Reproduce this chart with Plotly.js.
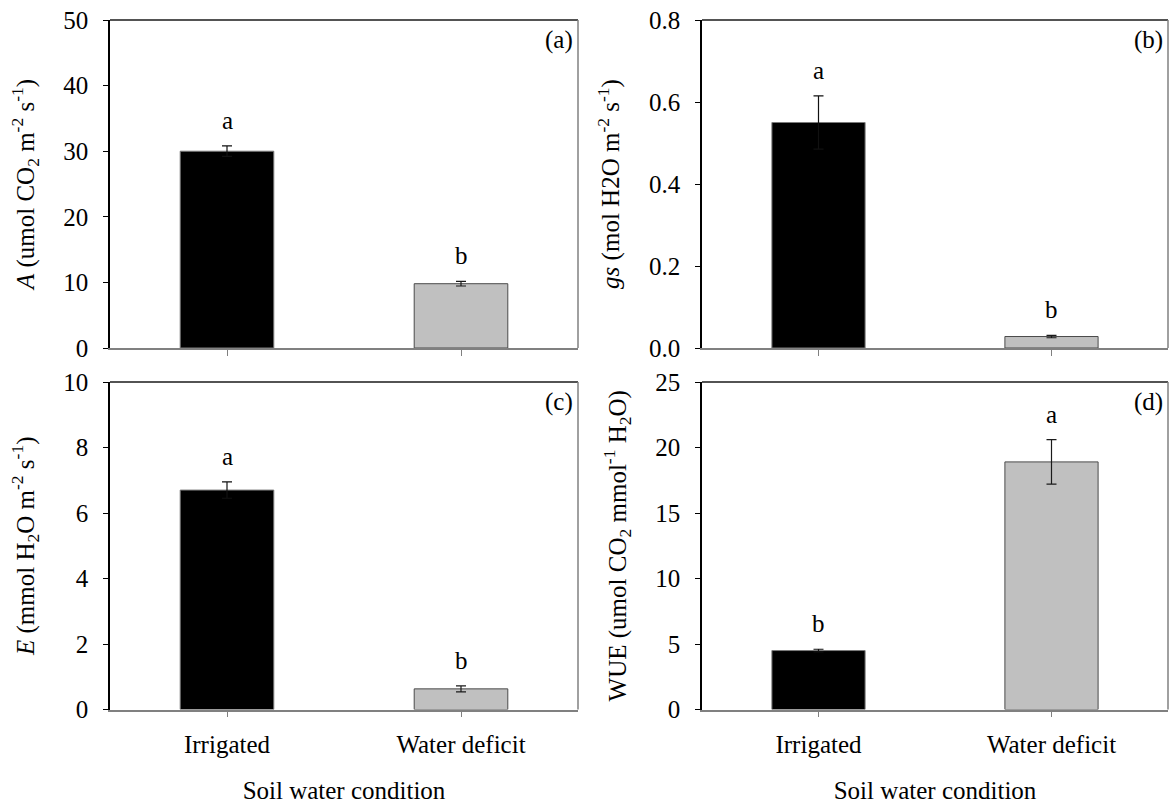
<!DOCTYPE html>
<html>
<head>
<meta charset="utf-8">
<script src="https://cdn.plot.ly/plotly-3.0.1.min.js"></script>
<style>
  html, body { margin: 0; padding: 0; background: #fff; }
  #chart { width: 1171px; height: 805px; }
</style>
</head>
<body>
<div id="chart"></div>
<script>
// Soil water treatments
const categories = ['Irrigated', 'Water deficit'];

// (a) Net photosynthesis A (umol CO2 m-2 s-1)
const photosynthesis = [30.0, 9.8];
const photosynthesisErr = [0.8, 0.35];
const photosynthesisLetters = ['a', 'b'];

// (b) Stomatal conductance gs (mol H2O m-2 s-1)
const conductance = [0.55, 0.028];
const conductanceErr = [0.065, 0.003];
const conductanceLetters = ['a', 'b'];

// (c) Transpiration E (mmol H2O m-2 s-1)
const transpiration = [6.7, 0.63];
const transpirationErr = [0.25, 0.09];
const transpirationLetters = ['a', 'b'];

// (d) Water use efficiency (umol CO2 mmol-1 H2O)
const wue = [4.5, 18.9];
const wueErr = [0.1, 1.7];
const wueLetters = ['b', 'a'];

const panelTags = ['(a)', '(b)', '(c)', '(d)'];

const FONT = 'Liberation Serif';
const barFill = ['#000000', '#c0c0c0'];
const barEdge = ['#7a7a7a', '#4a4a4a'];
const errColor = ['#111111', '#1a1a1a'];

const panels = [
  { values: photosynthesis, errs: photosynthesisErr, letters: photosynthesisLetters, ax: '' ,
    range: [0, 50], dtick: 10, fmt: '',
    title: '<i>A</i> (umol CO<sub>2</sub> m<sup>-2</sup> s<sup>-1</sup>)' },
  { values: conductance, errs: conductanceErr, letters: conductanceLetters, ax: '2',
    range: [0, 0.8], dtick: 0.2, fmt: '.1f',
    title: '<i>gs</i> (mol H2O m<sup>-2</sup> s<sup>-1</sup>)' },
  { values: transpiration, errs: transpirationErr, letters: transpirationLetters, ax: '3',
    range: [0, 10], dtick: 2, fmt: '',
    title: '<i>E</i> (mmol H<sub>2</sub>O m<sup>-2</sup> s<sup>-1</sup>)' },
  { values: wue, errs: wueErr, letters: wueLetters, ax: '4',
    range: [0, 25], dtick: 5, fmt: '',
    title: 'WUE (umol CO<sub>2</sub> mmol<sup>-1</sup> H<sub>2</sub>O)' }
];

// Panel placement in paper coordinates
const W = 1171, H = 805;
const colX = [[110 / W, 578 / W], [702 / W, 1168 / W]];
const rowY = [[1 - 348 / H, 1 - 20 / H], [1 - 709.5 / H, 1 - 382 / H]];

const traces = [];
const annotations = [];
const shapes = [];
const layout = {
  width: W, height: H,
  margin: { l: 0, r: 0, t: 0, b: 0 },
  paper_bgcolor: '#ffffff',
  plot_bgcolor: '#ffffff',
  showlegend: false,
  barmode: 'overlay',
  font: { family: FONT, size: 25, color: '#000000' }
};

panels.forEach((p, i) => {
  const xa = 'x' + p.ax, ya = 'y' + p.ax;
  const row = Math.floor(i / 2), col = i % 2;

  // One trace per treatment so each keeps its own fill and error-bar colour
  categories.forEach((cat, k) => {
    traces.push({
      type: 'bar',
      x: [cat], y: [p.values[k]],
      xaxis: xa, yaxis: ya,
      width: 0.4,
      marker: { color: barFill[k], line: { color: barEdge[k], width: 1 } },
      error_y: { type: 'data', array: [p.errs[k]], visible: true,
                 color: errColor[k], thickness: 1.2, width: 5 },
      hoverinfo: 'x+y'
    });
    // Significance letter above each error bar
    annotations.push({
      xref: xa, yref: ya, x: cat, y: p.values[k] + p.errs[k],
      text: p.letters[k], showarrow: false,
      yanchor: 'bottom', yshift: 10,
      font: { family: FONT, size: 25, color: '#000000' }
    });
  });

  const bottom = row === 1;
  layout['xaxis' + p.ax] = {
    domain: colX[col], anchor: ya,
    type: 'category', categoryorder: 'array', categoryarray: categories,
    range: [-0.5, 1.5],
    showline: true, linecolor: '#808080', linewidth: 1.5,
    ticks: 'outside', ticklen: 6, tickcolor: '#808080', tickwidth: 1.2,
    showticklabels: bottom, ticklabelstandoff: 6,
    tickfont: { family: FONT, size: 25, color: '#000000' },
    showgrid: false, zeroline: false, fixedrange: true,
    title: bottom ? { text: 'Soil water condition', standoff: 24,
                      font: { family: FONT, size: 25, color: '#000000' } } : { text: '' }
  };
  layout['yaxis' + p.ax] = {
    domain: rowY[row], anchor: xa,
    range: p.range, dtick: p.dtick, tick0: 0, tickformat: p.fmt,
    showline: true, linecolor: '#000000', linewidth: 1.5,
    ticks: 'outside', ticklen: 5, tickcolor: '#000000', tickwidth: 1.2,
    ticklabelstandoff: 10,
    tickfont: { family: FONT, size: 25, color: '#000000' },
    showgrid: false, zeroline: false, fixedrange: true,
    title: { text: p.title, standoff: 22, font: { family: FONT, size: 25, color: '#000000' } }
  };

  // Frame: dark top edge, grey right edge
  shapes.push({ type: 'line', xref: xa + ' domain', yref: ya + ' domain',
                x0: 0, x1: 1, y0: 1, y1: 1, line: { color: '#1a1a1a', width: 1.5 } });
  shapes.push({ type: 'line', xref: xa + ' domain', yref: ya + ' domain',
                x0: 1, x1: 1, y0: 0, y1: 1, line: { color: '#808080', width: 1.5 } });

  // Panel tag in the upper right corner
  annotations.push({
    xref: xa + ' domain', yref: ya + ' domain', x: 1, y: 1,
    xanchor: 'right', yanchor: 'top', xshift: -3, yshift: -4,
    text: panelTags[i], showarrow: false,
    font: { family: FONT, size: 25, color: '#000000' }
  });
});

layout.annotations = annotations;
layout.shapes = shapes;

Plotly.newPlot('chart', traces, layout, { displayModeBar: false });
</script>
</body>
</html>
